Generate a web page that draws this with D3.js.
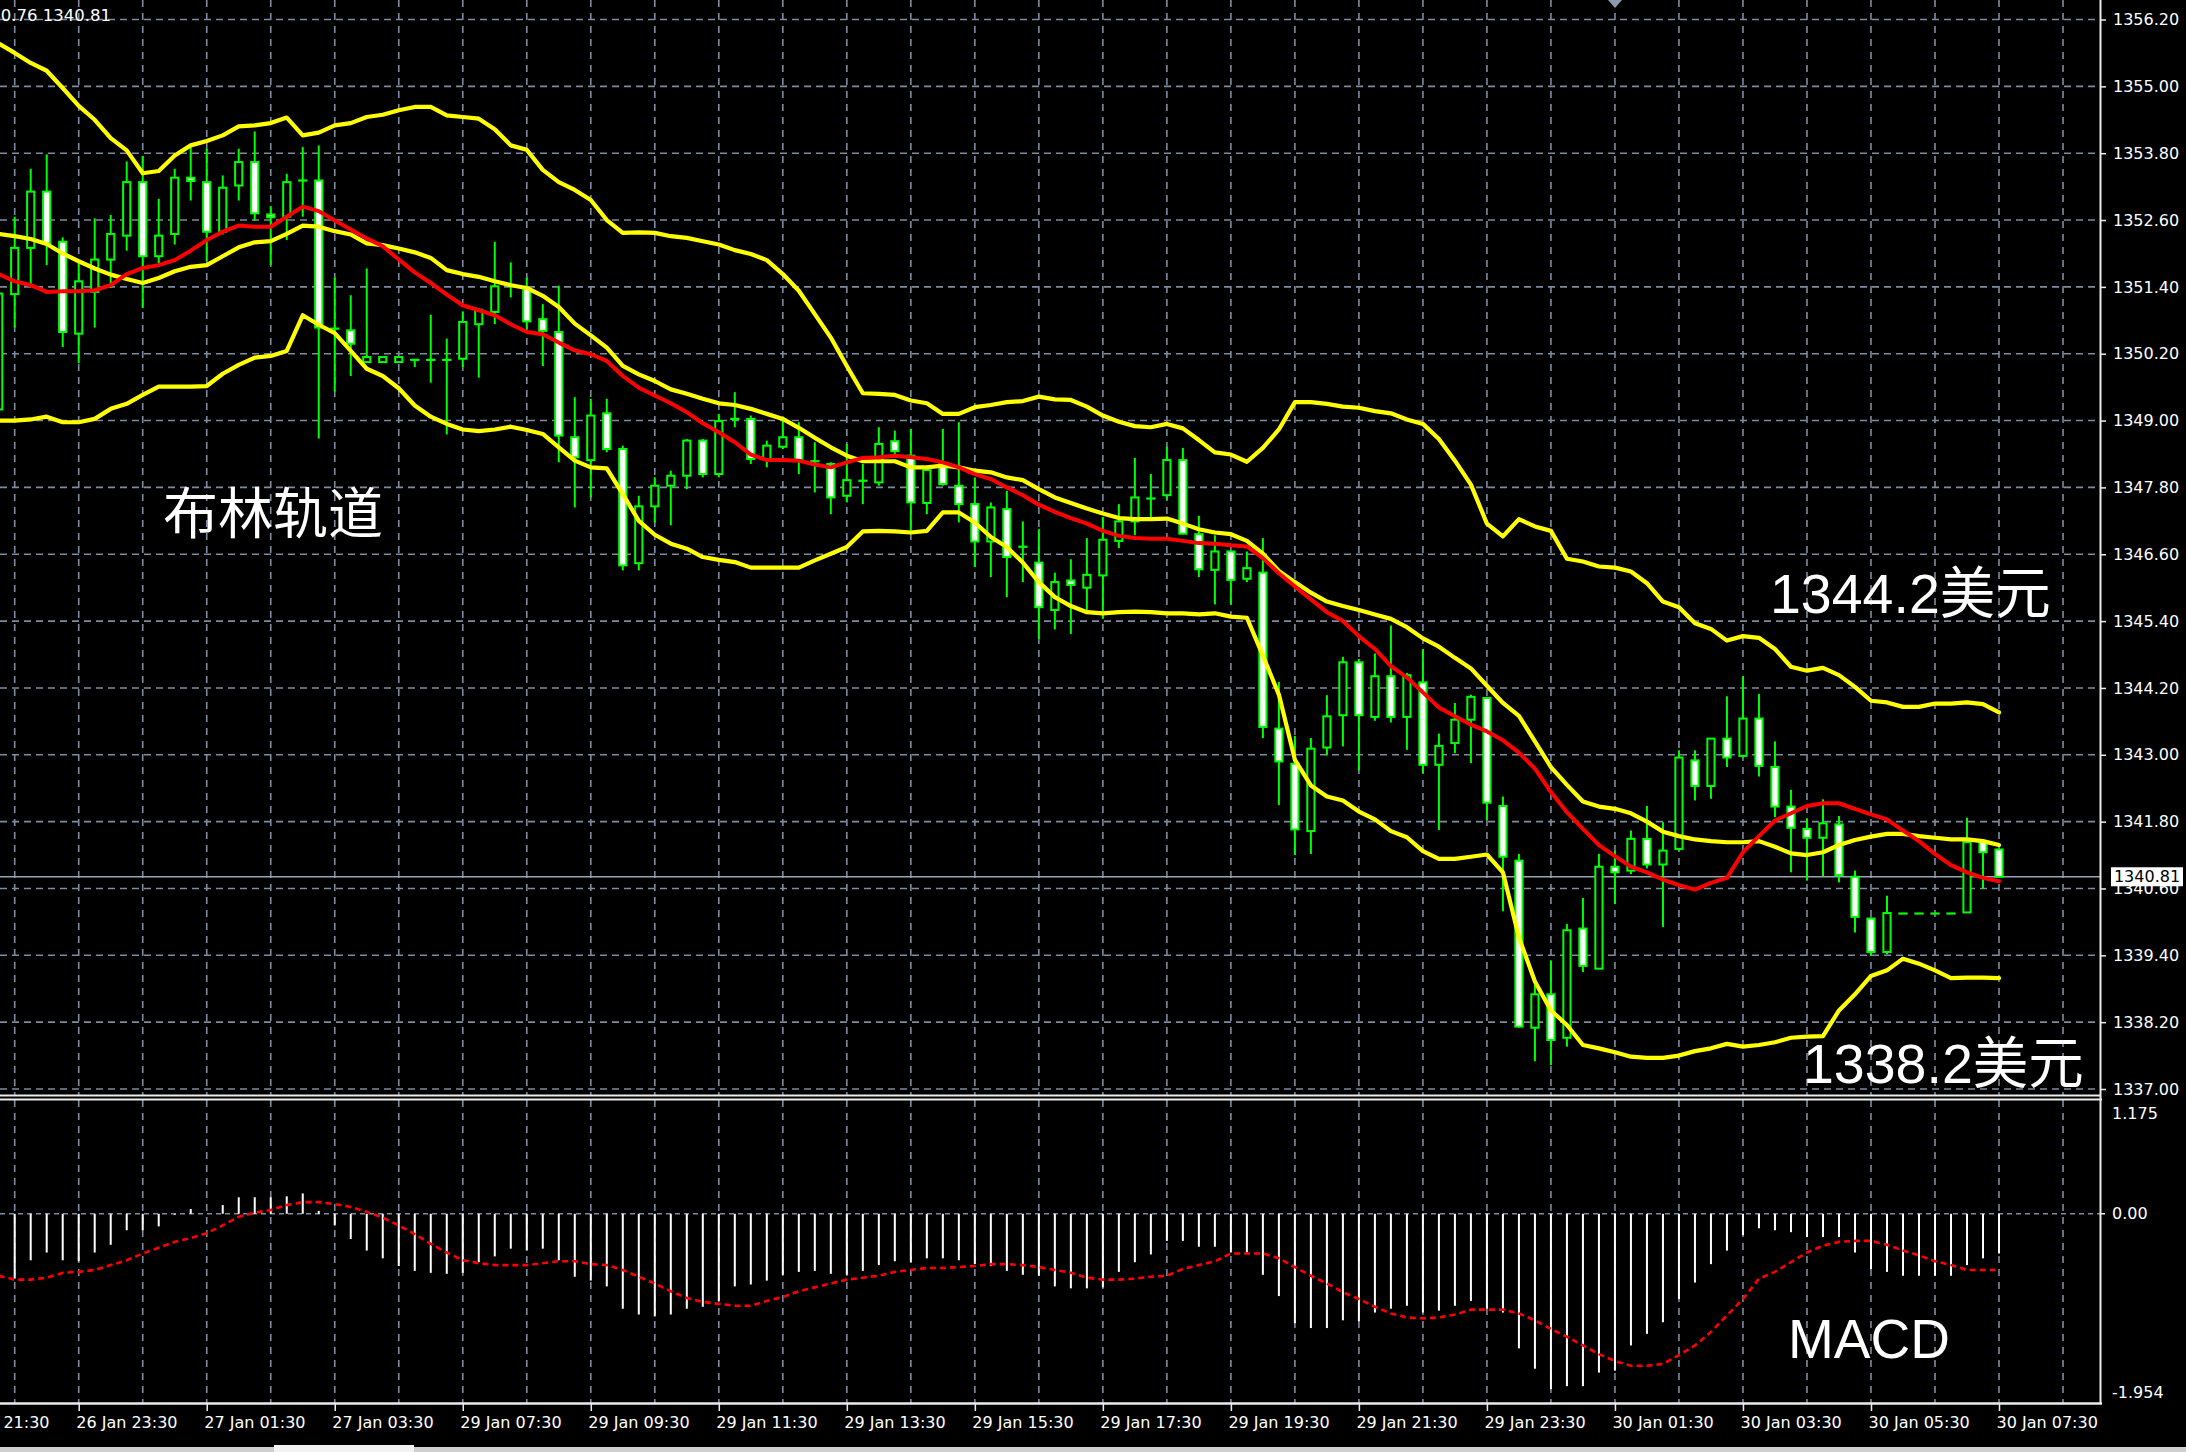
<!DOCTYPE html>
<html><head><meta charset="utf-8">
<script src="https://cdn.jsdelivr.net/npm/d3@7/dist/d3.min.js"></script>
<style>html,body{margin:0;padding:0;background:#000;overflow:hidden}</style>
</head><body>
<svg id="c" width="2186" height="1452"></svg>
<script>
// ---------------- DATA ----------------
const opens=[1349.20,1351.27,1352.10,1353.11,1352.21,1350.56,1351.31,1351.89,1352.32,1353.28,
1351.95,1352.35,1353.36,1353.28,1352.39,1353.22,1353.64,1352.70,1352.66,1353.31,
1353.31,1350.65,1350.62,1350.05,1350.05,1350.05,1350.09,1350.09,1350.09,1350.11,
1350.73,1350.95,1351.45,1351.37,1350.82,1350.59,1348.70,1348.29,1349.13,1348.49,
1346.44,1347.46,1347.83,1348.01,1348.64,1348.04,1349.03,1349.03,1348.31,1348.53,
1348.70,1348.29,1348.22,1347.65,1347.92,1347.89,1348.63,1348.37,1347.52,1348.22,
1347.83,1347.50,1346.83,1347.41,1346.75,1346.45,1345.60,1346.13,1346.00,1346.22,
1346.84,1347.19,1347.60,1347.66,1348.29,1346.96,1346.32,1346.65,1346.16,1346.27,
1343.47,1342.84,1341.63,1343.13,1343.71,1344.66,1343.68,1344.41,1343.68,1344.30,
1342.82,1343.21,1343.63,1344.02,1342.08,1341.10,1338.10,1338.70,1337.92,1339.88,
1339.16,1340.99,1340.92,1341.49,1341.03,1341.31,1342.90,1342.44,1343.29,1342.98,
1343.65,1342.78,1342.07,1341.67,1341.51,1341.75,1340.81,1340.06,1339.46,1340.15,
1340.15,1340.15,1340.15,1340.17,1341.45,1341.30];
const highs=[1351.50,1352.66,1353.52,1353.78,1352.29,1351.82,1352.63,1352.69,1353.65,1353.75,
1352.98,1353.52,1353.91,1353.88,1353.40,1353.88,1354.19,1352.85,1353.43,1353.91,
1353.94,1351.57,1351.25,1351.73,1350.14,1350.14,1350.09,1350.90,1350.47,1350.96,
1351.02,1352.21,1351.84,1351.57,1351.09,1351.42,1349.42,1349.39,1349.39,1348.55,
1347.65,1347.98,1348.10,1348.67,1348.67,1349.12,1349.51,1349.09,1348.64,1349.06,
1348.97,1348.61,1348.25,1348.58,1348.22,1348.88,1348.82,1348.85,1348.16,1348.85,
1348.97,1347.98,1347.53,1347.74,1347.19,1347.05,1346.27,1346.51,1346.89,1347.27,
1347.50,1348.33,1348.04,1348.53,1348.51,1347.29,1346.94,1346.66,1346.65,1346.89,
1344.31,1343.34,1343.30,1344.07,1344.76,1344.72,1344.82,1345.32,1344.47,1344.90,
1343.38,1343.93,1344.08,1344.04,1342.25,1341.22,1339.00,1339.31,1339.96,1340.43,
1341.22,1341.28,1341.64,1342.08,1341.79,1343.08,1343.08,1343.30,1344.05,1344.41,
1344.09,1343.24,1342.37,1341.86,1342.20,1341.90,1340.92,1340.08,1340.47,1340.15,
1340.15,1340.15,1340.15,1341.87,1341.48,1341.32];
const lows=[1349.00,1350.67,1351.44,1351.79,1350.32,1350.03,1350.67,1351.38,1352.05,1351.02,
1351.82,1352.16,1352.95,1351.86,1352.34,1352.95,1352.59,1351.79,1352.24,1352.66,
1348.68,1349.52,1349.80,1350.05,1350.05,1350.05,1349.96,1349.68,1348.75,1349.96,
1349.77,1350.73,1351.21,1350.64,1349.98,1348.25,1347.44,1347.62,1348.43,1346.31,
1346.31,1347.17,1347.12,1347.77,1347.98,1347.98,1348.88,1348.22,1348.16,1348.49,
1348.04,1347.71,1347.32,1347.53,1347.50,1347.83,1348.34,1347.02,1347.32,1347.83,
1347.17,1346.37,1346.19,1345.83,1346.10,1345.08,1345.25,1345.17,1345.60,1345.44,
1346.71,1346.94,1347.27,1347.58,1346.96,1346.19,1345.70,1345.70,1346.10,1343.30,
1342.10,1341.20,1341.22,1342.99,1343.15,1342.72,1343.61,1343.58,1343.09,1342.67,
1341.65,1343.03,1342.85,1341.83,1340.19,1338.10,1337.50,1337.43,1337.76,1339.10,
1339.16,1340.32,1340.86,1340.96,1339.91,1341.28,1342.18,1342.21,1342.78,1342.95,
1342.61,1341.88,1340.89,1340.74,1340.82,1340.71,1339.81,1339.39,1339.42,1340.15,
1340.15,1340.15,1340.15,1340.16,1340.60,1340.79];
const closes=[1351.28,1352.10,1353.11,1352.18,1350.59,1351.50,1351.89,1352.35,1353.28,1351.95,
1352.32,1353.36,1353.30,1352.39,1353.18,1353.64,1352.72,1352.65,1353.28,1353.31,
1350.67,1350.65,1350.38,1350.14,1350.14,1350.14,1350.09,1350.09,1350.09,1350.77,
1350.99,1351.41,1351.42,1350.78,1350.61,1348.73,1348.34,1349.09,1348.49,1346.40,
1347.46,1347.83,1348.01,1348.64,1348.04,1348.99,1349.03,1348.31,1348.55,1348.70,
1348.28,1348.25,1347.62,1347.93,1347.92,1348.58,1348.45,1347.53,1348.11,1347.86,
1347.50,1346.83,1347.44,1346.55,1346.72,1345.65,1346.10,1346.05,1346.23,1346.86,
1347.19,1347.62,1347.60,1348.29,1346.97,1346.33,1346.65,1346.14,1346.35,1343.50,
1342.88,1341.66,1343.11,1343.69,1344.66,1343.71,1344.41,1343.68,1344.43,1342.82,
1343.16,1343.63,1344.04,1342.14,1341.17,1338.12,1338.70,1337.88,1339.85,1339.21,
1340.99,1340.89,1341.49,1341.03,1341.28,1342.95,1342.44,1343.29,1342.95,1343.65,
1342.80,1342.07,1341.69,1341.51,1341.77,1340.84,1340.09,1339.46,1340.16,1340.15,
1340.15,1340.15,1340.15,1341.43,1341.25,1340.81];
const bbUpper=[1355.77,1355.60,1355.42,1355.28,1354.97,1354.65,1354.40,1354.07,1353.85,1353.44,
1353.48,1353.76,1353.94,1354.02,1354.12,1354.28,1354.30,1354.34,1354.44,1354.12,
1354.17,1354.30,1354.34,1354.45,1354.49,1354.57,1354.63,1354.63,1354.48,1354.45,
1354.42,1354.23,1353.94,1353.86,1353.50,1353.28,1353.14,1352.96,1352.60,1352.37,
1352.38,1352.37,1352.31,1352.28,1352.22,1352.16,1352.06,1351.99,1351.88,1351.63,
1351.33,1350.91,1350.49,1349.98,1349.49,1349.48,1349.46,1349.36,1349.31,1349.12,
1349.12,1349.24,1349.28,1349.33,1349.35,1349.43,1349.38,1349.37,1349.25,1349.09,
1348.98,1348.90,1348.88,1348.94,1348.86,1348.65,1348.43,1348.39,1348.26,1348.51,
1348.84,1349.33,1349.33,1349.30,1349.25,1349.23,1349.17,1349.13,1349.02,1348.94,
1348.67,1348.28,1347.85,1347.15,1346.92,1347.23,1347.10,1347.02,1346.52,1346.47,
1346.38,1346.36,1346.29,1346.08,1345.75,1345.65,1345.36,1345.26,1345.05,1345.13,
1345.10,1344.90,1344.58,1344.51,1344.56,1344.43,1344.22,1343.97,1343.94,1343.86,
1343.86,1343.92,1343.92,1343.94,1343.91,1343.76];
const bbMiddle=[1352.35,1352.31,1352.26,1352.17,1352.00,1351.86,1351.73,1351.62,1351.54,1351.47,
1351.56,1351.68,1351.76,1351.79,1351.95,1352.11,1352.20,1352.22,1352.35,1352.50,
1352.48,1352.40,1352.34,1352.18,1352.15,1352.09,1352.02,1351.92,1351.70,1351.63,
1351.58,1351.50,1351.43,1351.38,1351.24,1351.04,1350.74,1350.53,1350.31,1349.98,
1349.83,1349.71,1349.56,1349.48,1349.39,1349.31,1349.28,1349.21,1349.12,1349.03,
1348.87,1348.69,1348.52,1348.37,1348.27,1348.27,1348.27,1348.16,1348.16,1348.19,
1348.16,1348.10,1348.07,1347.98,1347.93,1347.77,1347.62,1347.52,1347.42,1347.33,
1347.25,1347.23,1347.23,1347.24,1347.15,1347.05,1346.99,1346.96,1346.84,1346.61,
1346.30,1346.10,1345.91,1345.75,1345.67,1345.60,1345.52,1345.44,1345.29,1345.09,
1344.94,1344.74,1344.55,1344.24,1343.93,1343.70,1343.24,1342.78,1342.46,1342.16,
1342.07,1342.03,1341.95,1341.80,1341.62,1341.54,1341.48,1341.45,1341.43,1341.43,
1341.45,1341.35,1341.23,1341.20,1341.25,1341.38,1341.47,1341.53,1341.58,1341.58,
1341.54,1341.51,1341.48,1341.48,1341.45,1341.38];
const bbLower=[1349.00,1349.00,1349.02,1349.07,1348.97,1348.97,1349.03,1349.21,1349.30,1349.46,
1349.61,1349.61,1349.61,1349.62,1349.84,1350.00,1350.13,1350.16,1350.25,1350.89,
1350.72,1350.57,1350.25,1349.93,1349.80,1349.58,1349.27,1349.07,1348.94,1348.84,
1348.81,1348.84,1348.89,1348.83,1348.76,1348.52,1348.28,1348.16,1348.14,1347.68,
1347.20,1346.95,1346.79,1346.70,1346.55,1346.50,1346.46,1346.36,1346.36,1346.36,
1346.36,1346.49,1346.61,1346.73,1347.01,1347.02,1347.01,1346.99,1347.02,1347.35,
1347.35,1347.17,1346.91,1346.73,1346.45,1346.10,1345.83,1345.67,1345.56,1345.54,
1345.56,1345.57,1345.56,1345.54,1345.54,1345.52,1345.54,1345.48,1345.46,1344.78,
1344.08,1342.91,1342.45,1342.25,1342.18,1341.98,1341.84,1341.63,1341.52,1341.27,
1341.13,1341.13,1341.17,1341.21,1340.89,1339.72,1338.93,1338.41,1338.15,1337.79,
1337.73,1337.66,1337.58,1337.56,1337.56,1337.60,1337.68,1337.73,1337.81,1337.76,
1337.79,1337.84,1337.92,1337.94,1337.95,1338.41,1338.70,1339.03,1339.13,1339.34,
1339.25,1339.13,1338.99,1339.00,1339.00,1338.99];
const maRed=[1351.63,1351.50,1351.43,1351.31,1351.32,1351.32,1351.34,1351.43,1351.63,1351.74,
1351.79,1351.88,1352.05,1352.24,1352.39,1352.50,1352.48,1352.48,1352.66,1352.84,
1352.76,1352.59,1352.43,1352.27,1352.13,1351.89,1351.66,1351.47,1351.26,1351.07,
1350.98,1350.89,1350.73,1350.59,1350.55,1350.40,1350.26,1350.19,1350.07,1349.80,
1349.59,1349.45,1349.31,1349.15,1348.95,1348.79,1348.61,1348.39,1348.29,1348.29,
1348.28,1348.21,1348.16,1348.25,1348.33,1348.34,1348.37,1348.34,1348.31,1348.25,
1348.16,1348.04,1347.95,1347.80,1347.66,1347.49,1347.36,1347.25,1347.15,1347.02,
1346.93,1346.89,1346.88,1346.88,1346.84,1346.80,1346.79,1346.76,1346.74,1346.53,
1346.26,1346.02,1345.79,1345.56,1345.40,1345.13,1344.90,1344.59,1344.39,1344.12,
1343.85,1343.69,1343.54,1343.42,1343.26,1343.04,1342.75,1342.33,1341.97,1341.67,
1341.38,1341.18,1340.99,1340.89,1340.76,1340.66,1340.58,1340.70,1340.79,1341.25,
1341.54,1341.82,1341.95,1342.08,1342.13,1342.13,1342.03,1341.93,1341.84,1341.64,
1341.45,1341.22,1341.02,1340.89,1340.79,1340.73];
const macdMain=[-0.74,-0.67,-0.48,-0.40,-0.48,-0.49,-0.40,-0.32,-0.17,-0.17,
-0.13,-0.01,0.05,0.00,0.09,0.17,0.17,0.17,0.18,0.21,
0.03,-0.12,-0.26,-0.38,-0.46,-0.54,-0.59,-0.61,-0.62,-0.61,
-0.50,-0.44,-0.36,-0.38,-0.36,-0.48,-0.65,-0.69,-0.75,-0.98,
-1.04,-1.06,-1.04,-0.98,-0.96,-0.90,-0.75,-0.73,-0.69,-0.63,
-0.60,-0.59,-0.62,-0.63,-0.59,-0.53,-0.49,-0.50,-0.46,-0.46,
-0.48,-0.52,-0.54,-0.59,-0.63,-0.64,-0.75,-0.77,-0.77,-0.76,
-0.60,-0.50,-0.42,-0.28,-0.28,-0.34,-0.34,-0.40,-0.40,-0.63,
-0.85,-1.13,-1.18,-1.18,-1.10,-1.11,-1.02,-0.98,-0.95,-1.02,
-1.00,-0.95,-0.90,-0.98,-1.02,-1.39,-1.60,-1.81,-1.78,-1.78,
-1.64,-1.62,-1.36,-1.24,-1.12,-0.88,-0.71,-0.52,-0.38,-0.22,
-0.15,-0.17,-0.19,-0.24,-0.24,-0.24,-0.40,-0.57,-0.60,-0.64,
-0.64,-0.64,-0.64,-0.53,-0.46,-0.41];
const macdSignal=[-0.64,-0.68,-0.68,-0.66,-0.61,-0.60,-0.58,-0.53,-0.48,-0.41,
-0.35,-0.29,-0.25,-0.20,-0.12,-0.03,0.01,0.04,0.09,0.12,
0.12,0.10,0.07,0.02,-0.04,-0.12,-0.21,-0.31,-0.40,-0.48,
-0.51,-0.53,-0.53,-0.53,-0.51,-0.49,-0.49,-0.52,-0.53,-0.58,
-0.65,-0.72,-0.80,-0.87,-0.91,-0.93,-0.95,-0.95,-0.90,-0.86,
-0.80,-0.76,-0.72,-0.68,-0.66,-0.64,-0.60,-0.58,-0.56,-0.56,
-0.55,-0.54,-0.52,-0.52,-0.53,-0.55,-0.58,-0.61,-0.66,-0.68,
-0.68,-0.67,-0.65,-0.64,-0.57,-0.53,-0.49,-0.41,-0.41,-0.41,
-0.46,-0.55,-0.64,-0.72,-0.81,-0.88,-0.96,-1.03,-1.07,-1.08,
-1.07,-1.04,-0.99,-0.99,-0.99,-1.03,-1.10,-1.19,-1.27,-1.36,
-1.45,-1.52,-1.57,-1.57,-1.55,-1.46,-1.36,-1.22,-1.05,-0.88,
-0.67,-0.60,-0.50,-0.40,-0.33,-0.29,-0.28,-0.28,-0.32,-0.38,
-0.43,-0.49,-0.53,-0.58,-0.58,-0.58];
const priceTicks=[1356.20,1355.00,1353.80,1352.60,1351.40,1350.20,1349.00,1347.80,1346.60,1345.40,1344.20,1343.00,1341.80,1340.60,1339.40,1338.20,1337.00];
const macdTicks=[1.175,0.00,-1.954];
const macdTickText=["1.175","0.00","-1.954"];
const timeLabels=["26 Jan 21:30","26 Jan 23:30","27 Jan 01:30","27 Jan 03:30","29 Jan 07:30","29 Jan 09:30","29 Jan 11:30","29 Jan 13:30","29 Jan 15:30","29 Jan 17:30","29 Jan 19:30","29 Jan 21:30","29 Jan 23:30","30 Jan 01:30","30 Jan 03:30","30 Jan 05:30","30 Jan 07:30"];
const timeLabelBar=[-3,5,13,21,29,37,45,53,61,69,77,85,93,101,109,117,125];
const lastPrice=1340.81;
const headerText="1340.76 1340.81";

// ---------------- LAYOUT ----------------
const W=2186,H=1452, AX=2100, MAIN_B=1095, M_T=1100, M_B=1403;
const GRID="#7d8ca0", LIME="#00ff00", FONT="'DejaVu Sans', sans-serif";
const svg=d3.select("#c");
const x=d3.scaleLinear().domain([0,125]).range([-1.3,1999]);
const y=d3.scaleLinear().domain([1337.0,1356.2]).range([1089,19.5]);
const ym=d3.scaleLinear().domain([-1.954,1.175]).range([M_B,M_T]);

svg.append("rect").attr("width",W).attr("height",H).attr("fill","#000");
const defs=svg.append("defs");
defs.append("clipPath").attr("id","cm").append("rect").attr("x",0).attr("y",0).attr("width",AX).attr("height",MAIN_B);
defs.append("clipPath").attr("id","cd").append("rect").attr("x",0).attr("y",M_T).attr("width",AX).attr("height",M_B-M_T);

// grid
const gridBars=d3.range(1,130,4);
const gGrid=svg.append("g");
gGrid.selectAll("line.vm").data(gridBars).join("line")
  .attr("x1",d=>x(d)).attr("x2",d=>x(d)).attr("y1",0).attr("y2",MAIN_B)
  .attr("stroke",GRID).attr("stroke-width",1.6).attr("stroke-dasharray","7,6");
gGrid.selectAll("line.vd").data(gridBars).join("line")
  .attr("x1",d=>x(d)).attr("x2",d=>x(d)).attr("y1",M_T).attr("y2",M_B)
  .attr("stroke",GRID).attr("stroke-width",1.6).attr("stroke-dasharray","7,6");
gGrid.selectAll("line.h").data(priceTicks).join("line")
  .attr("x1",0).attr("x2",AX).attr("y1",d=>y(d)).attr("y2",d=>y(d))
  .attr("stroke",GRID).attr("stroke-width",1.6).attr("stroke-dasharray","7,5");
gGrid.append("line").attr("x1",0).attr("x2",AX).attr("y1",ym(0)).attr("y2",ym(0))
  .attr("stroke",GRID).attr("stroke-width",1.6).attr("stroke-dasharray","5,4");

// current price line
svg.append("line").attr("x1",0).attr("x2",AX).attr("y1",y(lastPrice)).attr("y2",y(lastPrice))
  .attr("stroke","#9aa5b3").attr("stroke-width",1.6);

// candles
const bars=opens.map((o,i)=>({i,o,h:highs[i],l:lows[i],c:closes[i]}));
const gC=svg.append("g").attr("clip-path","url(#cm)");
gC.selectAll("line.w").data(bars).join("line")
  .attr("x1",d=>x(d.i)).attr("x2",d=>x(d.i)).attr("y1",d=>y(d.h)).attr("y2",d=>y(d.l))
  .attr("stroke",LIME).attr("stroke-width",2);
const bodyH=d=>Math.abs(y(d.o)-y(d.c));
gC.selectAll("rect.b").data(bars.filter(d=>bodyH(d)>=2.5)).join("rect")
  .attr("x",d=>x(d.i)-3.6).attr("width",7.2)
  .attr("y",d=>y(Math.max(d.o,d.c))).attr("height",d=>bodyH(d))
  .attr("fill",d=>d.c<d.o?"#fff":"#000").attr("stroke",LIME).attr("stroke-width",2);
gC.selectAll("line.d").data(bars.filter(d=>bodyH(d)<2.5)).join("line")
  .attr("x1",d=>x(d.i)-4.6).attr("x2",d=>x(d.i)+4.6)
  .attr("y1",d=>y((d.o+d.c)/2)).attr("y2",d=>y((d.o+d.c)/2))
  .attr("stroke",LIME).attr("stroke-width",2.2);

// indicator lines
const ln=d3.line().x((d,i)=>x(i)).y(d=>y(d));
const gL=svg.append("g").attr("clip-path","url(#cm)").attr("fill","none")
  .attr("stroke-linejoin","round").attr("stroke-linecap","round");
[bbUpper,bbMiddle,bbLower].forEach(arr=>{
  gL.append("path").attr("d",ln(arr)).attr("stroke","#ffff00").attr("stroke-width",4.2);
});
gL.append("path").attr("d",ln(maRed)).attr("stroke","#ff0000").attr("stroke-width",4.0);

// MACD
const gM=svg.append("g").attr("clip-path","url(#cd)");
gM.selectAll("line.hst").data(macdMain.map((v,i)=>({v,i}))).join("line")
  .attr("x1",d=>x(d.i)).attr("x2",d=>x(d.i)).attr("y1",ym(0)).attr("y2",d=>ym(d.v))
  .attr("stroke","#fff").attr("stroke-width",2);
gM.append("path").attr("d",d3.line().x((d,i)=>x(i)).y(d=>ym(d))(macdSignal))
  .attr("fill","none").attr("stroke","#ff0000").attr("stroke-width",2.6).attr("stroke-dasharray","6,4");

// borders
const bc="#ececec";
svg.append("line").attr("x1",0).attr("x2",AX).attr("y1",MAIN_B+0.5).attr("y2",MAIN_B+0.5).attr("stroke",bc).attr("stroke-width",2);
svg.append("line").attr("x1",0).attr("x2",AX+2).attr("y1",M_T-0.5).attr("y2",M_T-0.5).attr("stroke",bc).attr("stroke-width",2);
svg.append("line").attr("x1",0).attr("x2",AX+2).attr("y1",M_B+0.5).attr("y2",M_B+0.5).attr("stroke",bc).attr("stroke-width",2.5);
svg.append("line").attr("x1",AX+0.5).attr("x2",AX+0.5).attr("y1",0).attr("y2",M_B+1).attr("stroke",bc).attr("stroke-width",2);

// price axis
const pa=svg.append("g").attr("transform",`translate(${AX+1},0)`)
  .call(d3.axisRight(y).tickValues(priceTicks).tickFormat(d3.format(".2f")).tickSize(5).tickPadding(7));
pa.select(".domain").remove();
pa.selectAll("line").attr("stroke",bc).attr("stroke-width",1.5);
pa.selectAll("text").attr("fill","#fff").style("font-family",FONT).style("font-size","16px");

// last price box
svg.append("rect").attr("x",2111).attr("y",y(lastPrice)-9.5).attr("width",72).attr("height",19).attr("fill","#fff");
svg.append("text").attr("x",2147).attr("y",y(lastPrice)).attr("text-anchor","middle").attr("dominant-baseline","central")
  .attr("fill","#000").style("font-family",FONT).style("font-size","16px").text(d3.format(".2f")(lastPrice));

// macd axis labels
const macdLabelY=[ym(macdTicks[0])+13,ym(macdTicks[1]),ym(macdTicks[2])-11];
svg.selectAll("text.ml").data(macdTickText).join("text")
  .attr("x",AX+12).attr("y",(d,i)=>macdLabelY[i]).attr("dominant-baseline","central")
  .attr("fill","#fff").style("font-family",FONT).style("font-size","16px").text(d=>d);
svg.append("line").attr("x1",AX).attr("x2",AX+5).attr("y1",ym(0)).attr("y2",ym(0)).attr("stroke",bc).attr("stroke-width",1.5);

// time axis
const ta=svg.append("g").attr("transform",`translate(0,${M_B+1})`)
  .call(d3.axisBottom(x).tickValues(timeLabelBar).tickFormat((d,i)=>timeLabels[i]).tickSize(7).tickPadding(6));
ta.select(".domain").remove();
ta.selectAll("line").attr("stroke",bc).attr("stroke-width",1.5);
ta.selectAll("text").attr("fill","#fff").attr("text-anchor","start").attr("dx",-3)
  .style("font-family",FONT).style("font-size","16px");

// header text and marker
svg.append("text").attr("x",111).attr("y",15).attr("text-anchor","end").attr("dominant-baseline","central")
  .attr("fill","#fff").style("font-family",FONT).style("font-size","16.5px").text(headerText);
svg.append("path").attr("d","M1608,0 L1622,0 L1615,8 Z").attr("fill","#8a9aac");

// bottom strip
svg.append("rect").attr("x",0).attr("y",1447).attr("width",W).attr("height",5).attr("fill","#cfcfcf");
svg.append("rect").attr("x",274).attr("y",1445).attr("width",140).attr("height",7).attr("fill","#f2f2f2");

// annotations
svg.append("text").attr("x",163).attr("y",533).attr("fill","#fff")
  .style("font-family","'Noto Sans CJK SC', sans-serif").style("font-size","55px").text("布林轨道");
svg.append("text").attr("x",1770).attr("y",613).attr("fill","#fff")
  .style("font-family","'Liberation Sans', 'Noto Sans CJK SC', sans-serif").style("font-size","55.5px").text("1344.2美元");
svg.append("text").attr("x",1803).attr("y",1083).attr("fill","#fff")
  .style("font-family","'Liberation Sans', 'Noto Sans CJK SC', sans-serif").style("font-size","55.5px").text("1338.2美元");
svg.append("text").attr("x",1788).attr("y",1358).attr("fill","#fff")
  .style("font-family","'Liberation Sans', sans-serif").style("font-size","55px").text("MACD");
</script>
</body></html>
